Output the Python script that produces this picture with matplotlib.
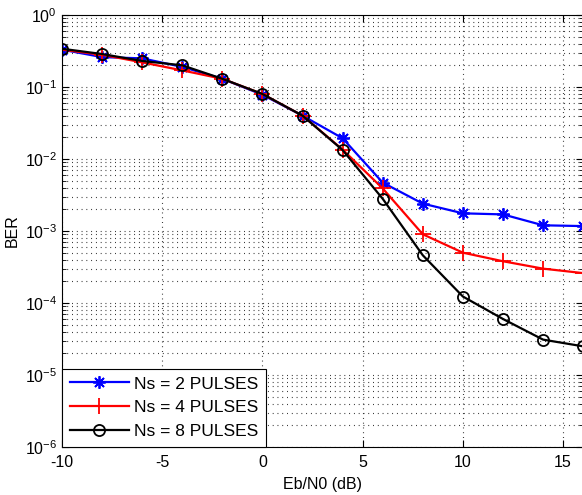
import numpy as np
import matplotlib.pyplot as plt
from matplotlib.ticker import NullFormatter

plt.rcParams['font.family'] = ['Liberation Sans', 'DejaVu Sans']
plt.rcParams['mathtext.default'] = 'regular'
plt.rcParams['axes.unicode_minus'] = False

# Eb/N0 in dB
ebn0 = [-10, -8, -6, -4, -2, 0, 2, 4, 6, 8, 10, 12, 14, 16]

# BER values
ber_ns2 = [0.33, 0.26, 0.25, 0.19, 0.13, 0.078, 0.040, 0.0194, 0.0047,
           0.0024, 0.00176, 0.0017, 0.0012, 0.00117]
ber_ns4 = [0.33, 0.28, 0.22, 0.17, 0.13, 0.080, 0.040, 0.0135, 0.0039,
           0.00090, 0.00050, 0.00038, 0.00030, 0.00026]
ber_ns8 = [0.34, 0.287, 0.23, 0.20, 0.13, 0.080, 0.040, 0.0133, 0.0028,
           0.00046, 0.000123, 0.000060, 0.000031, 0.000025]

labels = ['Ns = 2 PULSES', 'Ns = 4 PULSES', 'Ns = 8 PULSES']
x_ticks = [-10, -5, 0, 5, 10, 15]
y_exps = [-6, -5, -4, -3, -2, -1, 0]

fig = plt.figure(figsize=(5.82, 4.95), dpi=100)
ax = fig.add_axes([62 / 582, 1 - 447 / 495, 1 - 62 / 582 + 0.002, (447 - 15) / 495])

ax.semilogy(ebn0, ber_ns2, color='b', lw=1.6, marker=(8, 2, 0), ms=9, mew=1.3, label=labels[0])
ax.semilogy(ebn0, ber_ns4, color='r', lw=1.6, marker='+', ms=11, mew=1.3, label=labels[1])
ax.semilogy(ebn0, ber_ns8, color='k', lw=1.6, marker='o', ms=8, mew=1.3, mfc='none', label=labels[2])

ax.set_xlim(-10, 16)
ax.set_ylim(1e-6, 1)
ax.set_xticks(x_ticks)
ax.set_yticks([10.0 ** e for e in y_exps], [f'$10^{{{e}}}$' for e in y_exps])
minor = [m * 10.0 ** e for e in y_exps[:-1] for m in range(2, 10)]
ax.set_yticks(minor, minor=True)
ax.yaxis.set_minor_formatter(NullFormatter())

dots = (0, (0.8, 3.5))
ax.grid(True, which='major', axis='both', linestyle=dots, color='#222222', lw=0.8)
ax.grid(True, which='minor', axis='y', linestyle=dots, color='#222222', lw=0.8)
ax.tick_params(which='both', direction='in', top=True, right=True, labelsize=11.5)
ax.tick_params(axis='x', pad=6)
ax.tick_params(which='major', length=5)
ax.tick_params(which='minor', length=3)

ax.set_xlabel('Eb/N0 (dB)', fontsize=11.5, labelpad=5)
ax.set_ylabel('BER', fontsize=11.5, labelpad=4)

leg = ax.legend(loc='lower left', fontsize=12.5, fancybox=False, framealpha=1,
                edgecolor='k', borderaxespad=0, handlelength=3.4, handletextpad=0.3,
                labelspacing=0.5, borderpad=0.45)
leg.get_frame().set_linewidth(0.8)

fig.savefig('out.png', dpi=100)
